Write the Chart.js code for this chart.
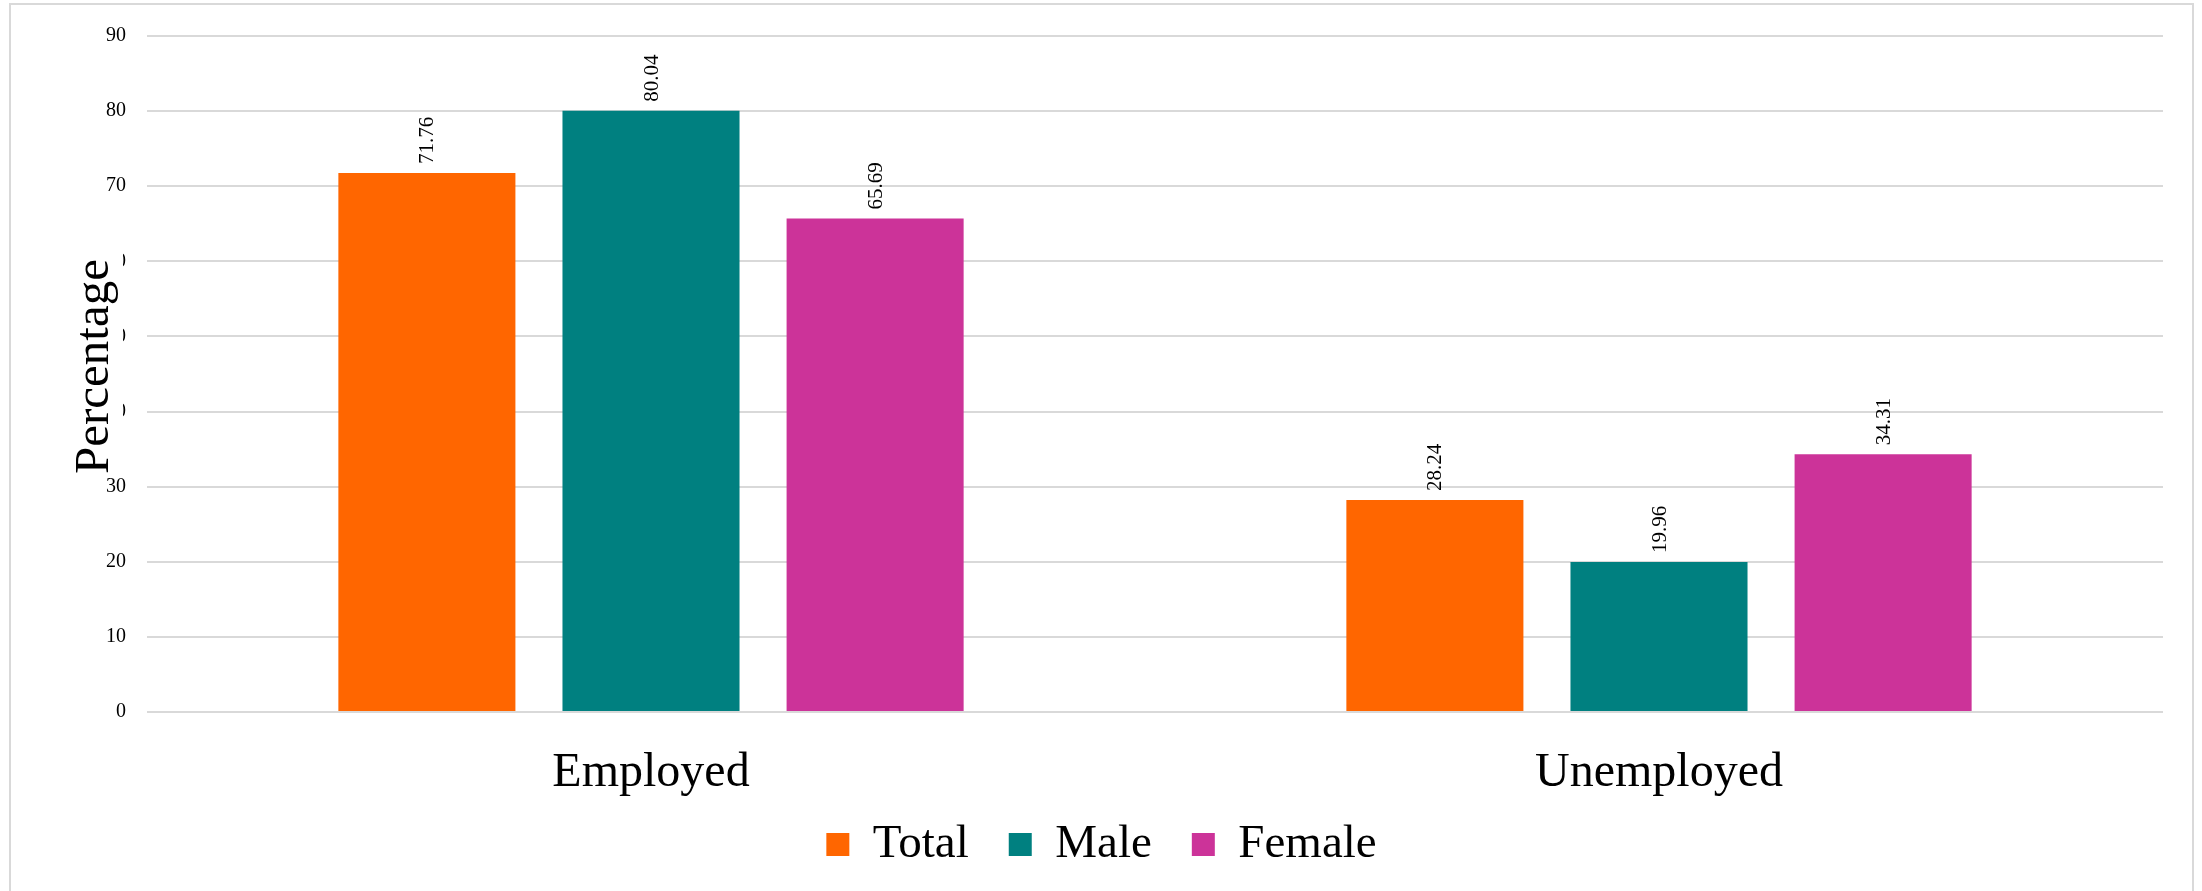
<!DOCTYPE html>
<html>
<head>
<meta charset="utf-8">
<script src="https://cdn.jsdelivr.net/npm/chart.js@4.4.1/dist/chart.umd.min.js"></script>
<style>
  html, body { margin: 0; padding: 0; background: #ffffff; }
  #wrap { width: 2202px; height: 891px; }
</style>
</head>
<body>
<div id="wrap"><canvas id="Graph1" width="2202" height="891"></canvas></div>
<script>
const categories = ['Employed', 'Unemployed'];
const seriesNames = ['Total', 'Male', 'Female'];
const totalValues = [71.76, 28.24];
const maleValues = [80.04, 19.96];
const femaleValues = [65.69, 34.31];
const seriesColors = ['#FF6600', '#008080', '#CC3399'];
const yTicks = [0, 10, 20, 30, 40, 50, 60, 70, 80, 90];

const serif = "'Liberation Serif', 'Times New Roman', serif";

// white page with a thin grey frame around the chart
const framePlugin = {
    id: 'frame',
    beforeDraw(chart) {
        const ctx = chart.ctx;
        ctx.save();
        ctx.fillStyle = '#ffffff';
        ctx.fillRect(0, 0, chart.width, chart.height);
        ctx.strokeStyle = '#d9d9d9';
        ctx.lineWidth = 2;
        ctx.strokeRect(10, 4, chart.width - 19, chart.height + 10);
        ctx.restore();
    }
};

// value written above each bar, rotated to read upwards
const barLabelPlugin = {
    id: 'barLabels',
    afterDatasetsDraw(chart) {
        const ctx = chart.ctx;
        ctx.save();
        ctx.fillStyle = '#000000';
        ctx.font = '21px ' + serif;
        ctx.textAlign = 'left';
        ctx.textBaseline = 'middle';
        chart.data.datasets.forEach((ds, i) => {
            chart.getDatasetMeta(i).data.forEach((bar, j) => {
                ctx.save();
                ctx.translate(bar.x, bar.y - 9);
                ctx.rotate(-Math.PI / 2);
                ctx.fillText(ds.data[j].toFixed(2), 0, 1);
                ctx.restore();
            });
        });
        ctx.restore();
    }
};

// category names under each group, placed on the x scale
const categoryLabelPlugin = {
    id: 'categoryLabels',
    afterDraw(chart) {
        const ctx = chart.ctx;
        const x = chart.scales.x;
        ctx.save();
        ctx.fillStyle = '#000000';
        ctx.font = '48px ' + serif;
        ctx.textAlign = 'center';
        ctx.textBaseline = 'middle';
        categories.forEach((name, i) => {
            ctx.fillText(name, x.getPixelForValue(i), chart.chartArea.bottom + 61);
        });
        ctx.restore();
    }
};

// y title sits on a white box over the tick column
const yTitlePlugin = {
    id: 'yTitle',
    afterDraw(chart) {
        const ctx = chart.ctx;
        const cy = chart.scales.y.getPixelForValue(46);
        ctx.save();
        ctx.fillStyle = '#ffffff';
        ctx.fillRect(68, cy - 118, 55, 218);
        ctx.translate(95, cy);
        ctx.rotate(-Math.PI / 2);
        ctx.fillStyle = '#000000';
        ctx.font = '49px ' + serif;
        ctx.textAlign = 'center';
        ctx.textBaseline = 'middle';
        ctx.fillText('Percentage', 0, 0);
        ctx.restore();
    }
};

const seriesValues = [totalValues, maleValues, femaleValues];
const datasets = seriesNames.map((name, i) => ({
    label: name,
    data: seriesValues[i],
    backgroundColor: seriesColors[i],
    borderWidth: 0,
    categoryPercentage: 0.667,
    barPercentage: 0.79
}));

new Chart(document.getElementById('Graph1'), {
    type: 'bar',
    data: {
        labels: categories,
        datasets: datasets
    },
    options: {
        responsive: false,
        animation: false,
        layout: {
            padding: { top: 36, right: 39, bottom: 13, left: 40 }
        },
        plugins: {
            tooltip: { enabled: false },
            legend: {
                position: 'bottom',
                labels: {
                    color: '#000000',
                    font: { family: serif, size: 47 },
                    boxWidth: 23,
                    boxHeight: 23,
                    padding: 40
                }
            }
        },
        scales: {
            x: {
                afterFit: s => { s.height = 69; },
                grid: { display: false },
                border: { display: false },
                ticks: { display: false }
            },
            y: {
                min: 0,
                max: 90,
                afterFit: s => { s.width = 107; },
                afterBuildTicks: s => { s.ticks = yTicks.map(v => ({ value: v })); },
                grid: { color: '#d9d9d9', lineWidth: 2, drawTicks: false },
                border: { display: false },
                ticks: {
                    color: '#000000',
                    font: { family: serif, size: 20 },
                    padding: 21
                }
            }
        }
    },
    plugins: [framePlugin, barLabelPlugin, categoryLabelPlugin, yTitlePlugin]
});
</script>
</body>
</html>
